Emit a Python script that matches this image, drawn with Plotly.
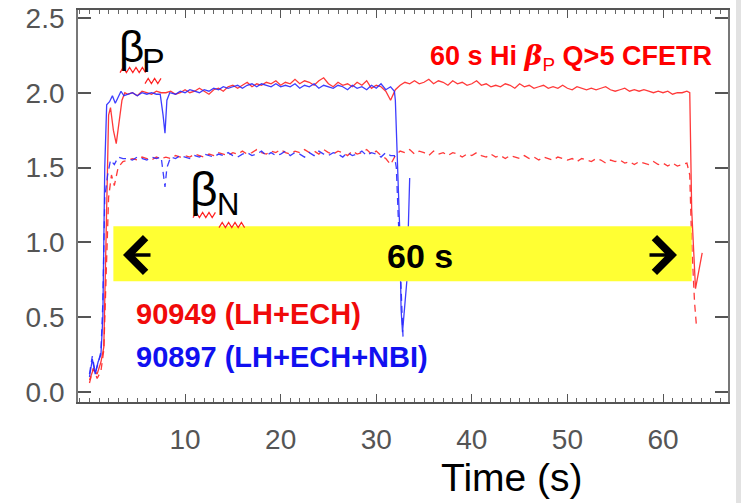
import plotly.graph_objects as go

# ---------------- data ----------------
# 90949 (LH+ECH)  beta_p  (solid red)
red_bp_t = [0.0, 0.4, 0.8, 1.2, 1.5, 1.8, 2.0, 2.2, 2.5, 2.8, 3.1, 3.4, 3.7,
            4.0, 4.5, 5.0, 5.5, 6.0, 6.5, 7.0, 7.5, 8.0, 8.5, 9.0, 9.5, 10.0, 10.5, 11.0, 11.5,
            12.0, 12.5, 13.0, 13.5, 14.0, 14.5, 15.0, 15.5, 16.0, 16.5, 17.0, 17.5, 18.0, 18.5,
            19.0, 19.5, 20.0, 20.5, 21.0, 21.5, 22.0, 22.5, 23.0, 23.5, 24.0, 24.5, 25.0, 25.5,
            26.0, 26.5, 27.0, 27.5, 28.0, 28.5, 29.0, 29.5, 30.0, 30.5, 31.0, 31.5, 32.0, 32.5,
            33.0, 33.5, 34.0, 34.5, 35.0, 35.5, 36.0, 36.5, 37.0, 37.5, 38.0, 38.5, 39.0, 39.5,
            40.0, 40.5, 41.0, 41.5, 42.0, 42.5, 43.0, 43.5, 44.0, 44.5, 45.0, 45.5, 46.0, 46.5,
            47.0, 47.5, 48.0, 48.5, 49.0, 49.5, 50.0, 50.5, 51.0, 51.5, 52.0, 52.5, 53.0, 53.5,
            54.0, 54.5, 55.0, 55.5, 56.0, 56.5, 57.0, 57.5, 58.0, 58.5, 59.0, 59.5, 60.0, 60.5,
            61.0, 61.5, 62.0, 62.5, 62.8, 63.0, 63.4, 64.1]
red_bp = [0.08, 0.15, 0.12, 0.20, 0.30, 1.20, 1.85, 1.90, 1.75, 1.66, 1.80, 1.95, 2.00,
          1.99, 2.00, 1.98, 2.01, 2.00, 1.99, 2.01, 2.00, 2.00, 2.01, 1.99, 2.00, 2.02, 2.00, 2.01, 2.03,
          2.01, 1.99, 2.02, 2.03, 2.01, 2.04, 2.05, 2.03, 2.05, 2.07, 2.04, 2.06, 2.05, 2.07,
          2.06, 2.08, 2.05, 2.07, 2.06, 2.09, 2.06, 2.08, 2.07, 2.05, 2.08, 2.10, 2.06, 2.04,
          2.07, 2.05, 2.06, 2.04, 2.07, 2.05, 2.08, 2.03, 2.05, 2.04, 2.01, 1.95, 2.02, 2.05,
          2.07, 2.06, 2.08, 2.06, 2.07, 2.09, 2.06, 2.08, 2.07, 2.05, 2.08, 2.06, 2.07, 2.05,
          2.06, 2.08, 2.05, 2.06, 2.04, 2.05, 2.04, 2.06, 2.05, 2.03, 2.06, 2.04, 2.05, 2.03,
          2.04, 2.05, 2.03, 2.04, 2.03, 2.05, 2.03, 2.02, 2.04, 2.03, 2.02, 2.03, 2.02, 2.03,
          2.04, 2.02, 2.01, 2.02, 2.03, 2.01, 2.02, 2.01, 2.02, 2.01, 2.00, 2.01, 2.00, 2.01,
          1.99, 2.00, 2.00, 2.01, 2.00, 1.22, 0.69, 0.93]

# 90949 (LH+ECH)  beta_N  (dashed red)
red_bn_t = [0.0, 0.4, 0.8, 1.2, 1.5, 1.8, 2.0, 2.3, 2.6, 3.0, 3.5,
            4.0, 4.5, 5.0, 5.5, 6.0, 6.5, 7.0, 7.5, 8.0, 8.5, 9.0, 9.5, 10.0, 10.5, 11.0, 11.5,
            12.0, 12.5, 13.0, 13.5, 14.0, 14.5, 15.0, 15.5, 16.0, 16.5, 17.0, 17.5, 18.0, 18.5,
            19.0, 19.5, 20.0, 20.5, 21.0, 21.5, 22.0, 22.5, 23.0, 23.5, 24.0, 24.5, 25.0, 25.5,
            26.0, 26.5, 27.0, 27.5, 28.0, 28.5, 29.0, 29.5, 30.0, 30.5, 31.0, 31.5, 32.0, 32.5,
            33.0, 33.5, 34.0, 34.5, 35.0, 35.5, 36.0, 36.5, 37.0, 37.5, 38.0, 38.5, 39.0, 39.5,
            40.0, 40.5, 41.0, 41.5, 42.0, 42.5, 43.0, 43.5, 44.0, 44.5, 45.0, 45.5, 46.0, 46.5,
            47.0, 47.5, 48.0, 48.5, 49.0, 49.5, 50.0, 50.5, 51.0, 51.5, 52.0, 52.5, 53.0, 53.5,
            54.0, 54.5, 55.0, 55.5, 56.0, 56.5, 57.0, 57.5, 58.0, 58.5, 59.0, 59.5, 60.0, 60.5,
            61.0, 61.5, 62.0, 62.5, 62.8, 63.0, 63.3, 63.5]
red_bn = [0.06, 0.16, 0.09, 0.14, 0.28, 1.00, 1.30, 1.45, 1.38, 1.50, 1.54,
          1.55, 1.56, 1.55, 1.57, 1.56, 1.55, 1.57, 1.56, 1.57, 1.56, 1.58, 1.57, 1.58, 1.57, 1.59, 1.58,
          1.57, 1.59, 1.58, 1.60, 1.59, 1.58, 1.60, 1.59, 1.61, 1.59, 1.60, 1.62, 1.60, 1.59,
          1.61, 1.60, 1.62, 1.60, 1.59, 1.61, 1.60, 1.62, 1.60, 1.61, 1.59, 1.62, 1.60, 1.59,
          1.61, 1.60, 1.58, 1.61, 1.59, 1.60, 1.62, 1.59, 1.61, 1.58, 1.56, 1.52, 1.58, 1.61,
          1.60, 1.62, 1.59, 1.61, 1.60, 1.58, 1.61, 1.59, 1.60, 1.58, 1.60, 1.59, 1.57, 1.59,
          1.58, 1.60, 1.58, 1.57, 1.59, 1.57, 1.58, 1.56, 1.58, 1.57, 1.56, 1.58, 1.56, 1.57,
          1.55, 1.57, 1.56, 1.55, 1.57, 1.56, 1.55, 1.56, 1.54, 1.56, 1.55, 1.54, 1.56, 1.55,
          1.53, 1.55, 1.54, 1.55, 1.53, 1.54, 1.52, 1.54, 1.53, 1.52, 1.54, 1.52, 1.53, 1.51,
          1.53, 1.51, 1.52, 1.53, 1.45, 1.00, 0.60, 0.44]

# 90897 (LH+ECH+NBI)  beta_p  (solid blue)
blue_bp_t = [0.0, 0.3, 0.6, 0.9, 1.2, 1.4, 1.6, 1.8, 2.1, 2.4, 2.7, 3.0, 3.3, 3.6,
             4.0, 4.5, 5.0, 5.5, 6.0, 6.5, 7.0, 7.4, 7.7, 7.9, 8.1, 8.4,
             9.0, 9.5, 10.0, 10.5, 11.0, 11.5, 12.0, 12.5, 13.0, 13.5, 14.0, 14.5, 15.0, 15.5,
             16.0, 16.5, 17.0, 17.5, 18.0, 18.5, 19.0, 19.5, 20.0, 20.5, 21.0, 21.5, 22.0, 22.5,
             23.0, 23.5, 24.0, 24.5, 25.0, 25.5, 26.0, 26.5, 27.0, 27.5, 28.0, 28.5, 29.0, 29.5,
             30.0, 30.5, 31.0, 31.5, 31.9, 32.0, 32.45, 32.6, 32.75, 33.2, 33.5]
blue_bp = [0.10, 0.22, 0.12, 0.20, 0.25, 0.50, 1.50, 1.92, 1.94, 1.98, 1.93, 1.97, 2.01, 1.98,
           1.99, 2.00, 1.98, 2.00, 1.99, 2.00, 1.99, 1.99, 1.85, 1.73, 1.95, 2.00,
           1.99, 2.01, 2.00, 2.02, 2.01, 2.00, 2.02, 2.01, 2.03, 2.02, 2.04, 2.03, 2.04, 2.05,
           2.03, 2.05, 2.06, 2.04, 2.06, 2.05, 2.04, 2.06, 2.04, 2.05, 2.04, 2.06, 2.03, 2.05,
           2.04, 2.06, 2.03, 2.05, 2.04, 2.03, 2.05, 2.04, 2.02, 2.05, 2.03, 2.04, 2.02, 2.05,
           2.03, 2.06, 2.02, 2.04, 2.01, 1.95, 1.10, 0.55, 0.40, 0.74, 1.43]

# 90897 (LH+ECH+NBI)  beta_N  (dashed blue)
blue_bn_t = [0.0, 0.3, 0.6, 0.9, 1.2, 1.4, 1.6, 1.9, 2.2, 2.6, 3.0, 3.5,
             4.0, 4.5, 5.0, 5.5, 6.0, 6.5, 7.0, 7.5, 7.7, 7.9, 8.1, 8.5,
             9.0, 9.5, 10.0, 10.5, 11.0, 11.5, 12.0, 12.5, 13.0, 13.5, 14.0, 14.5, 15.0, 15.5,
             16.0, 16.5, 17.0, 17.5, 18.0, 18.5, 19.0, 19.5, 20.0, 20.5, 21.0, 21.5, 22.0, 22.5,
             23.0, 23.5, 24.0, 24.5, 25.0, 25.5, 26.0, 26.5, 27.0, 27.5, 28.0, 28.5, 29.0, 29.5,
             30.0, 30.5, 31.0, 31.5, 31.9, 32.1, 32.4, 32.6, 32.8]
blue_bn = [0.12, 0.24, 0.13, 0.19, 0.27, 0.60, 1.30, 1.45, 1.55, 1.52, 1.57, 1.56,
           1.56, 1.55, 1.57, 1.56, 1.55, 1.57, 1.56, 1.57, 1.48, 1.37, 1.50, 1.57,
           1.56, 1.58, 1.57, 1.56, 1.58, 1.57, 1.59, 1.58, 1.57, 1.59, 1.58, 1.60, 1.58, 1.57,
           1.59, 1.60, 1.58, 1.59, 1.61, 1.58, 1.60, 1.58, 1.59, 1.61, 1.58, 1.60, 1.59, 1.57,
           1.60, 1.58, 1.61, 1.59, 1.58, 1.60, 1.59, 1.57, 1.60, 1.58, 1.59, 1.61, 1.58, 1.60,
           1.59, 1.57, 1.60, 1.58, 1.58, 1.50, 1.00, 0.60, 0.37]

x_tick_vals = [10, 20, 30, 40, 50, 60]
y_tick_vals = [0.0, 0.5, 1.0, 1.5, 2.0, 2.5]

label_red = "90949 (LH+ECH)"
label_blue = "90897 (LH+ECH+NBI)"
band_text = "60 s"
band_start, band_end = 2.5, 63.0      # yellow "60 s" band extent (s)
band_low, band_high = 0.74, 1.107

# ---------------- styling ----------------
W, H = 754, 503
ML, MR, MT, MB = 78, 26, 10, 101
PW, PH = W - ML - MR, H - MT - MB
RED_LINE = "rgba(255,35,35,0.9)"
BLUE_LINE = "rgba(40,40,255,0.9)"
SANS = "Liberation Sans, Arial, sans-serif"


def px(x):
    return (x - ML) / PW


def py(y):
    return (MT + PH - y) / PH


fig = go.Figure()
fig.add_trace(go.Scatter(x=red_bp_t, y=red_bp, mode="lines",
                         line=dict(color=RED_LINE, width=1.3), showlegend=False))
fig.add_trace(go.Scatter(x=red_bn_t, y=red_bn, mode="lines",
                         line=dict(color=RED_LINE, width=1.3, dash="7px,5px"), showlegend=False))
fig.add_trace(go.Scatter(x=blue_bp_t, y=blue_bp, mode="lines",
                         line=dict(color=BLUE_LINE, width=1.3), showlegend=False))
fig.add_trace(go.Scatter(x=blue_bn_t, y=blue_bn, mode="lines",
                         line=dict(color=BLUE_LINE, width=1.3, dash="7px,5px"), showlegend=False))

shapes = []
# yellow band, drawn over the traces
shapes.append(dict(type="rect", xref="x", yref="y", x0=band_start, x1=band_end,
                   y0=band_low, y1=band_high, fillcolor="#ffff33", line=dict(width=0),
                   layer="above"))
# right grey window edge
shapes.append(dict(type="rect", xref="paper", yref="paper", x0=px(736), x1=px(741),
                   y0=py(H), y1=py(0), fillcolor="#e2e2e2", line=dict(width=0), layer="below"))


def squiggle(x0, x1, y, amp=2.6, step=3.2):
    pts = []
    x = x0
    k = 0
    while x <= x1:
        yy = y + (amp if k % 2 == 0 else -amp)
        pts.append((px(x), py(yy)))
        x += step
        k += 1
    d = "M " + " L ".join(f"{a:.5f},{b:.5f}" for a, b in pts)
    return dict(type="path", xref="paper", yref="paper", path=d,
                line=dict(color="#ff2020", width=1.2), layer="above")


shapes += [squiggle(120, 147, 70), squiggle(145, 163, 81),
           squiggle(193, 218, 215), squiggle(219, 246, 225)]

ann = []
# title
ann.append(dict(xref="paper", yref="paper", x=px(714), y=py(57), xanchor="right", yanchor="middle",
                showarrow=False,
                text=("<b>60 s Hi <i><span style='font-family:DejaVu Serif'>β</span></i></b>"
                      "<sub>P</sub><b> Q>5 CFETR</b>"),
                font=dict(family=SANS, size=27, color="#ff0000")))
# legend labels
ann.append(dict(xref="paper", yref="paper", x=px(134), y=py(314), xanchor="left", yanchor="middle",
                showarrow=False, text="<b>" + label_red + "</b>",
                font=dict(family=SANS, size=29, color="#f00a0a")))
ann.append(dict(xref="paper", yref="paper", x=px(134), y=py(357), xanchor="left", yanchor="middle",
                showarrow=False, text="<b>" + label_blue + "</b>",
                font=dict(family=SANS, size=29, color="#1010f0")))
# 60 s in the band
ann.append(dict(xref="paper", yref="paper", x=px(420), y=py(256), xanchor="center", yanchor="middle",
                showarrow=False, text="<b>" + band_text + "</b>",
                font=dict(family=SANS, size=34, color="#000000")))
# arrows
ann.append(dict(xref="paper", yref="paper", x=px(123), y=py(255), ax=29, ay=0, text="",
                showarrow=True, arrowhead=4, arrowwidth=3.5, arrowsize=1.9, arrowcolor="#000"))
ann.append(dict(xref="paper", yref="paper", x=px(677), y=py(255), ax=-29, ay=0, text="",
                showarrow=True, arrowhead=4, arrowwidth=3.5, arrowsize=1.9, arrowcolor="#000"))
# beta_P, beta_N labels
ann.append(dict(xref="paper", yref="paper", x=px(131), y=py(47), xanchor="center", yanchor="middle",
                showarrow=False, text="β", font=dict(family=SANS, size=44, color="#000")))
ann.append(dict(xref="paper", yref="paper", x=px(153), y=py(60), xanchor="center", yanchor="middle",
                showarrow=False, text="P", font=dict(family=SANS, size=34, color="#000")))
ann.append(dict(xref="paper", yref="paper", x=px(204), y=py(189), xanchor="center", yanchor="middle",
                showarrow=False, text="β", font=dict(family=SANS, size=48, color="#000")))
ann.append(dict(xref="paper", yref="paper", x=px(228), y=py(204), xanchor="center", yanchor="middle",
                showarrow=False, text="N", font=dict(family=SANS, size=31, color="#000")))
# axis title
ann.append(dict(xref="paper", yref="paper", x=px(512), y=py(478), xanchor="center", yanchor="middle",
                showarrow=False, text="Time (s)",
                font=dict(family=SANS, size=39, color="#000")))

fig.update_layout(
    width=W, height=H,
    margin=dict(l=ML, r=MR, t=MT, b=MB, autoexpand=False),
    paper_bgcolor="#ffffff", plot_bgcolor="#ffffff",
    shapes=shapes, annotations=ann, showlegend=False,
    xaxis=dict(range=[-1.2, 66.8], tickvals=x_tick_vals, ticktext=[str(v) for v in x_tick_vals],
               ticks="inside", ticklen=8, tickwidth=1.2, tickcolor="#555",
               minor=dict(dtick=1, tick0=0, ticks="inside", ticklen=4, tickwidth=1, tickcolor="#666"),
               showline=True, linecolor="#555", linewidth=1.6, mirror="allticks",
               showgrid=False, zeroline=False, ticklabelstandoff=12, automargin=False,
               tickfont=dict(family=SANS, size=28, color="#555")),
    yaxis=dict(range=[-0.067, 2.553], tickvals=y_tick_vals, tickformat=".1f",
               ticks="inside", ticklen=13, tickwidth=2, tickcolor="#555",
               showline=True, linecolor="#777", linewidth=1.8, mirror="allticks",
               showgrid=False, zeroline=False, ticklabelstandoff=6, automargin=False,
               tickfont=dict(family=SANS, size=28, color="#555")),
)

fig.write_html("out.html", config={"displayModeBar": False},
               post_script="document.body.style.margin='0';")
